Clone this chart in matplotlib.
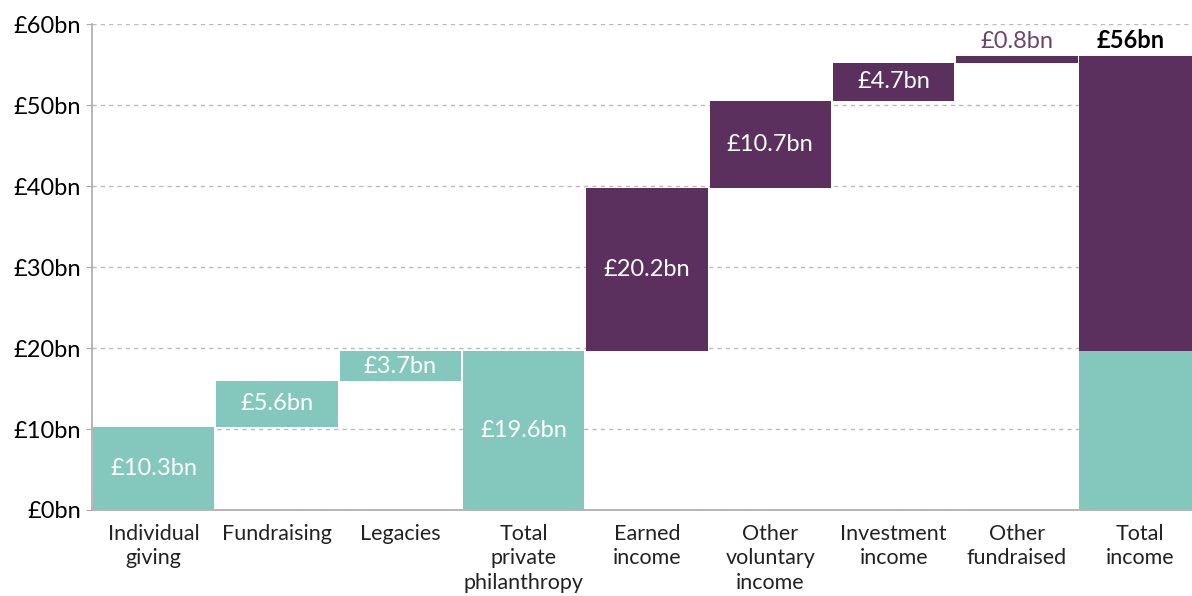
import matplotlib
matplotlib.use("Agg")
import matplotlib.pyplot as plt
import numpy as np

plt.rcParams['font.family'] = ['Lato', 'DejaVu Sans']

# values in £bn
categories = ["Individual\ngiving", "Fundraising", "Legacies", "Total\nprivate\nphilanthropy",
              "Earned\nincome", "Other\nvoluntary\nincome", "Investment\nincome",
              "Other\nfundraised", "Total\nincome"]
private_steps = [10.3, 5.6, 3.7]
private_total = 19.6
other_steps = [20.2, 10.7, 4.7, 0.8]
total_income = 56
labels = ["£10.3bn", "£5.6bn", "£3.7bn", "£19.6bn", "£20.2bn", "£10.7bn", "£4.7bn", "£0.8bn", "£56bn"]

teal = "#84c8bd"
purple = "#5b305e"

fig = plt.figure(figsize=(11.92, 5.96), dpi=100)
ax = fig.add_axes([0.0772, 0.1443, 0.9228, 0.8154])

x = np.arange(len(categories))
w = 0.985

# build bottoms / heights for the waterfall
bottoms = []
heights = []
colors = []
run = 0
for v in private_steps:
    bottoms.append(run)
    heights.append(v)
    colors.append(teal)
    run += v
bottoms.append(0)
heights.append(private_total)
colors.append(teal)
run = private_total
for v in other_steps:
    bottoms.append(run)
    heights.append(v)
    colors.append(purple)
    run += v

ax.bar(x[:8], heights, bottom=bottoms, width=w, color=colors, zorder=3)
# total income: private part + the rest
ax.bar(x[8], private_total, width=w, color=teal, zorder=3)
ax.bar(x[8], total_income - private_total, bottom=private_total, width=w, color=purple, zorder=3)

lab_fs = 17
for i in range(8):
    if heights[i] < 2:
        ax.text(x[i], bottoms[i] + heights[i] + 0.6, labels[i], ha='center', va='bottom',
                color="#6b4470", fontsize=lab_fs, zorder=4)
    else:
        ax.text(x[i], bottoms[i] + heights[i] / 2, labels[i], ha='center', va='center',
                color='white', fontsize=lab_fs, zorder=4)
ax.text(x[8] - 0.08, total_income + 0.6, labels[8], ha='center', va='bottom', color='black',
        fontsize=lab_fs, fontweight='bold', zorder=4)

ax.set_xlim(-0.5, 8.42)
ax.set_ylim(0, 60)
ax.set_yticks(np.arange(0, 61, 10))
ax.set_yticklabels(["£%dbn" % v for v in range(0, 61, 10)], fontsize=17)
ax.set_xticks(x)
ax.set_xticklabels(categories, fontsize=15.5, color="#222222", va='top', linespacing=1.27)
ax.tick_params(axis='x', length=0, pad=10)
ax.tick_params(axis='y', length=4, color="#aaaaaa", pad=4)

ax.grid(axis='y', linestyle=(0, (3, 3)), color="#bbbbbb", linewidth=1, zorder=0)
for s in ['top', 'right']:
    ax.spines[s].set_visible(False)
for s in ['left', 'bottom']:
    ax.spines[s].set_color("#aaaaaa")
    ax.spines[s].set_linewidth(1.2)

fig.savefig("out.png", dpi=100)
